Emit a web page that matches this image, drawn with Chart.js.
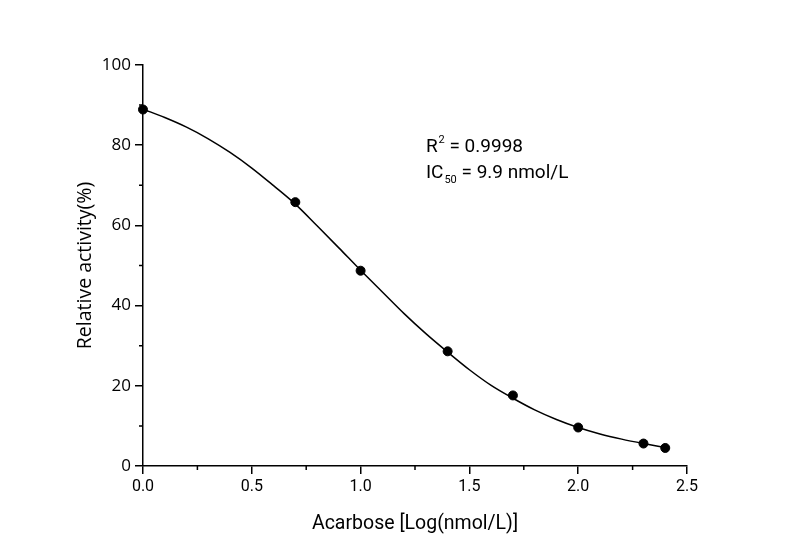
<!DOCTYPE html>
<html>
<head>
<meta charset="utf-8">
<script src="https://cdn.jsdelivr.net/npm/chart.js@4.4.1/dist/chart.umd.min.js"></script>
<style>
  html, body { margin: 0; padding: 0; background: #fff; }
  #wrap { width: 798px; height: 560px; }
</style>
</head>
<body>
<div id="wrap"><canvas id="doseChart"></canvas></div>
<script>
// measured points (log concentration vs relative activity)
const pointX = [0, 0.7, 1.0, 1.4, 1.7, 2.0, 2.3, 2.4];
const pointY = [88.9, 65.8, 48.7, 28.6, 17.6, 9.6, 5.6, 4.5];

// fitted curve
const curveX = [0, 0.1, 0.2, 0.3, 0.4, 0.5, 0.6, 0.7, 0.8, 0.9, 1.0, 1.1, 1.2,
                1.3, 1.4, 1.5, 1.6, 1.7, 1.8, 1.9, 2.0, 2.1, 2.2, 2.3, 2.4];
const curveY = [89.0, 86.9, 84.5, 81.6, 78.2, 74.3, 69.9, 65.3, 59.9, 54.4, 48.8, 43.4, 38.0,
                33.0, 28.4, 24.0, 20.1, 16.9, 14.0, 11.6, 9.6, 8.0, 6.7, 5.6, 4.6];

const xMajorTicks = [0, 0.5, 1.0, 1.5, 2.0, 2.5];
const yMajorTicks = [0, 20, 40, 60, 80, 100];
const xMinorTicks = [0.25, 0.75, 1.25, 1.75, 2.25];
const yMinorTicks = [10, 30, 50, 70, 90];

const r2Text = '0.9998';
const ic50Text = '9.9 nmol/L';

// minor ticks + R²/IC50 note
const extras = {
    id: 'extras',
    afterDraw(chart) {
        const { ctx, scales: { x, y } } = chart;
        ctx.save();
        ctx.strokeStyle = '#000';
        ctx.lineWidth = 1.5;
        ctx.beginPath();
        xMinorTicks.forEach(v => {
            const px = x.getPixelForValue(v);
            ctx.moveTo(px, y.bottom);
            ctx.lineTo(px, y.bottom + 4);
        });
        yMinorTicks.forEach(v => {
            const py = y.getPixelForValue(v);
            ctx.moveTo(x.left, py);
            ctx.lineTo(x.left - 4, py);
        });
        ctx.stroke();

        // annotation
        ctx.fillStyle = '#000';
        ctx.textBaseline = 'alphabetic';
        ctx.textAlign = 'left';
        let tx = x.getPixelForValue(1.3);
        let ty = y.getPixelForValue(78.3);
        ctx.font = '19px Roboto';
        ctx.fillText('R', tx, ty);
        let w = ctx.measureText('R').width;
        ctx.font = '11px Roboto';
        ctx.fillText('2', tx + w + 1, ty - 9);
        w += ctx.measureText('2').width + 1;
        ctx.font = '19px Roboto';
        ctx.fillText(' = ' + r2Text, tx + w, ty);

        ty += 26;
        ctx.fillText('IC', tx, ty);
        w = ctx.measureText('IC').width;
        ctx.font = '11px Roboto';
        ctx.fillText('50', tx + w + 1, ty + 5);
        w += ctx.measureText('50').width + 1;
        ctx.font = '19px Roboto';
        ctx.fillText(' = ' + ic50Text, tx + w, ty);
        ctx.restore();
    }
};

new Chart(document.getElementById('doseChart'), {
    type: 'scatter',
    data: {
        datasets: [
            {
                label: 'fit',
                data: curveX.map((v, i) => ({ x: v, y: curveY[i] })),
                showLine: true,
                borderColor: '#000',
                borderWidth: 1.5,
                pointRadius: 0,
                cubicInterpolationMode: 'monotone',
                fill: false
            },
            {
                label: 'data',
                data: pointX.map((v, i) => ({ x: v, y: pointY[i] })),
                pointRadius: 4.5,
                pointBackgroundColor: '#000',
                pointBorderColor: '#000',
                clip: false
            }
        ]
    },
    options: {
        responsive: true,
        maintainAspectRatio: false,
        animation: false,
        layout: { padding: { left: 0, right: 111, top: 65, bottom: 0 } },
        plugins: {
            legend: { display: false },
            tooltip: { enabled: false }
        },
        scales: {
            x: {
                type: 'linear',
                min: 0,
                max: 2.5,
                afterFit(scale) { scale.height = 94; },
                afterBuildTicks(scale) { scale.ticks = xMajorTicks.map(v => ({ value: v })); },
                grid: { drawOnChartArea: false, drawTicks: true, tickLength: 8, color: '#000', lineWidth: 1.5 },
                border: { color: '#000', width: 1.5 },
                ticks: {
                    color: '#000',
                    padding: 3,
                    font: { family: 'Roboto', size: 16 },
                    callback: v => v.toFixed(1)
                },
                title: {
                    display: true,
                    text: 'Acarbose [Log(nmol/L)]',
                    color: '#000',
                    font: { family: 'Roboto', size: 19.5 },
                    padding: { top: 0, bottom: 24 }
                }
            },
            y: {
                type: 'linear',
                min: 0,
                max: 100,
                afterFit(scale) { scale.width = 143; },
                afterBuildTicks(scale) { scale.ticks = yMajorTicks.map(v => ({ value: v })); },
                grid: { drawOnChartArea: false, drawTicks: true, tickLength: 8, color: '#000', lineWidth: 1.5 },
                border: { color: '#000', width: 1.5 },
                ticks: {
                    color: '#000',
                    padding: 4,
                    font: { family: 'Open Sans', size: 17 }
                },
                title: {
                    display: true,
                    text: 'Relative activity(%)',
                    color: '#000',
                    font: { family: 'Open Sans', size: 19.5 },
                    padding: { top: 74, bottom: 0 }
                }
            }
        }
    },
    plugins: [extras]
});
</script>
</body>
</html>
